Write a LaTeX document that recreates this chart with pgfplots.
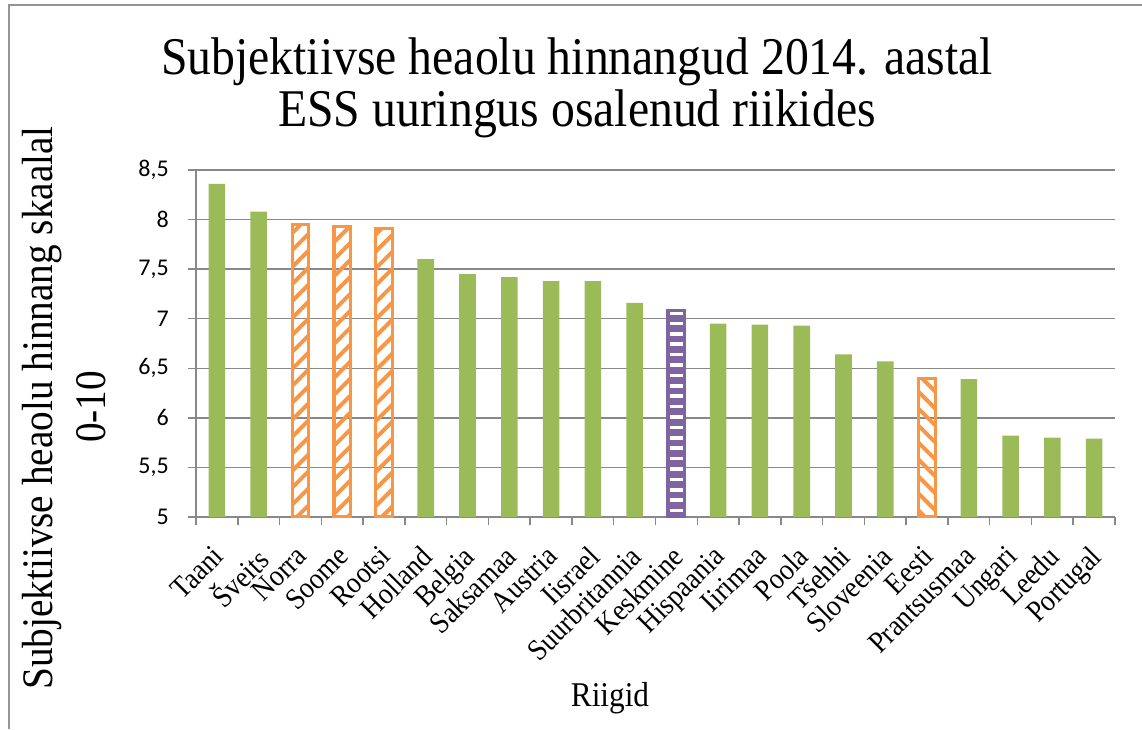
\documentclass[border=0pt]{standalone}
\usepackage{fontspec}
\setmainfont{Liberation Serif}
\newfontfamily\tickfont{Carlito}
\usepackage{graphicx}
\usepackage{pgfplots}
\pgfplotsset{compat=1.18}
\usetikzlibrary{patterns.meta}
\definecolor{cgreen}{HTML}{9BBB59}
\definecolor{corange}{HTML}{F79646}
\definecolor{cpurple}{HTML}{8064A2}
\definecolor{cgrid}{HTML}{888888}
\newcommand\sx[1]{\scalebox{0.9}[1]{#1}}
\begin{document}
\begin{tikzpicture}
\useasboundingbox (0pt,0pt) rectangle (1142pt,729pt);
\draw[cgrid!90, line width=1.5pt] (9pt,0pt) -- (9pt,724pt) -- (1142pt,724pt);
\node[anchor=base, font=\fontsize{53}{53}\selectfont] at (577pt,654pt) {\sx{Subjektiivse heaolu hinnangud 2014. aastal}};
\node[anchor=base, font=\fontsize{53}{53}\selectfont] at (577pt,602pt) {\sx{ESS uuringus osalenud riikides}};
\node[anchor=base, rotate=90, font=\fontsize{43.6}{43.6}\selectfont] at (52pt,321pt) {\sx{Subjektiivse heaolu hinnang skaalal}};
\node[anchor=base, rotate=90, font=\fontsize{43.6}{43.6}\selectfont] at (105pt,322pt) {\sx{0-10}};
\node[anchor=base, font=\fontsize{34.7}{34.7}\selectfont] at (610pt,23pt) {\sx{Riigid}};
\begin{axis}[
  at={(196pt,212pt)}, anchor=south west,
  scale only axis, width=919pt, height=347pt,
  xmin=-0.5, xmax=21.5, ymin=5, ymax=8.5,
  axis x line*=bottom, axis y line*=left,
  axis line style={cgrid, line width=1.5pt, -},
  ytick={5,5.5,6,6.5,7,7.5,8,8.5},
  yticklabels={5,{5,5},6,{6,5},7,{7,5},8,{8,5}},
  xtick={0,...,21},
  xticklabels={\sx{Taani},\sx{Šveits},\sx{Norra},\sx{Soome},\sx{Rootsi},\sx{Holland},\sx{Belgia},\sx{Saksamaa},\sx{Austria},\sx{Iisrael},\sx{Suurbritannia},\sx{Keskmine},\sx{Hispaania},\sx{Iirimaa},\sx{Poola},\sx{Tšehhi},\sx{Sloveenia},\sx{Eesti},\sx{Prantsusmaa},\sx{Ungari},\sx{Leedu},\sx{Portugal}},
  minor xtick={-0.5,0.5,...,21.5},
  tick align=outside, major tick length=8pt, minor tick length=8pt,
  tick style={cgrid, line width=1.5pt},
  major x tick style={draw=none},
  ymajorgrids, major grid style={cgrid, line width=1.5pt},
  yticklabel style={font=\tickfont\fontsize{24}{24}\selectfont, anchor=east, inner sep=0pt, xshift=-19pt},
  xticklabel style={font=\fontsize{30}{30}\selectfont, xshift=-6pt, yshift=-19pt, rotate=45, anchor=north east, inner sep=0pt},
]
\addplot[ybar, bar width=16.6pt, bar shift=0pt, fill=cgreen, draw=none]
  coordinates {(0,8.36) (1,8.08) (5,7.60) (6,7.45) (7,7.42) (8,7.38) (9,7.38) (10,7.16)
               (12,6.95) (13,6.94) (14,6.93) (15,6.64) (16,6.57) (18,6.39) (19,5.82) (20,5.80) (21,5.79)};
\addplot[ybar, bar width=16.6pt, bar shift=0pt, draw=corange, line width=3.2pt,
  pattern={Lines[angle=45,distance=12pt,line width=4pt]}, pattern color=corange]
  coordinates {(2,7.95) (3,7.93) (4,7.91)};
\addplot[ybar, bar width=16.6pt, bar shift=0pt, draw=corange, line width=3.2pt,
  pattern={Lines[angle=-45,distance=12pt,line width=4pt]}, pattern color=corange]
  coordinates {(17,6.40)};
\addplot[ybar, bar width=16.6pt, bar shift=0pt, draw=cpurple, line width=3.4pt,
  preaction={fill=cpurple},
  pattern={Lines[angle=0,distance=10.4pt,line width=3.6pt]}, pattern color=white]
  coordinates {(11,7.08)};
\end{axis}
\end{tikzpicture}
\end{document}
